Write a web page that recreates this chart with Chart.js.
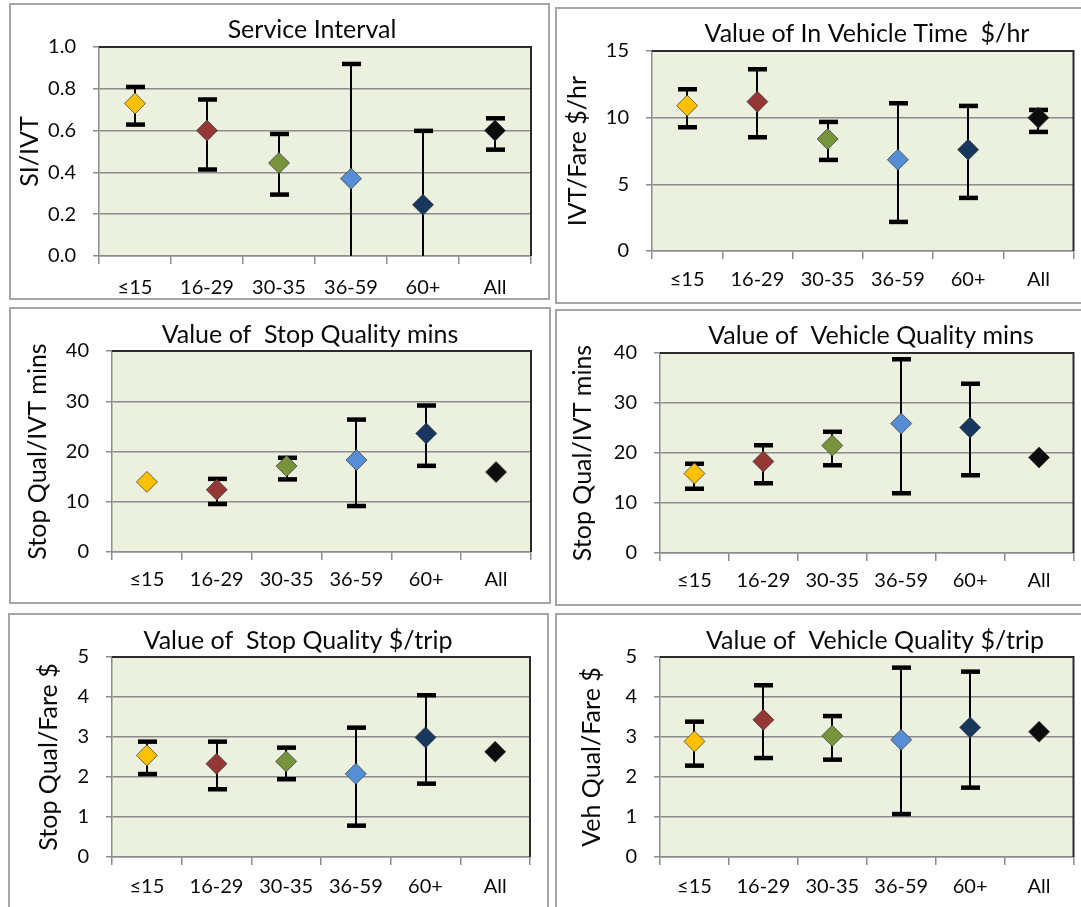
<!DOCTYPE html>
<html><head><meta charset="utf-8">
<script src="https://cdn.jsdelivr.net/npm/chart.js@4.4.1/dist/chart.umd.min.js"></script>
<style>
html,body{margin:0;padding:0;background:#fff;width:1081px;height:907px;overflow:hidden;}
body{position:relative;}
.panel{position:absolute;}
.panel canvas{position:absolute;left:0;top:0;}
.frame{position:absolute;left:0;top:0;right:0;bottom:0;box-sizing:border-box;border:2px solid #a6a6a6;pointer-events:none;}
</style></head><body>
<script>
// ---- data ----
const categories = ['≤15', '16-29', '30-35', '36-59', '60+', 'All'];

const siMean = [0.73, 0.60, 0.445, 0.37, 0.245, 0.60];
const siHigh = [0.81, 0.75, 0.585, 0.92, 0.60, 0.66];
const siLow  = [0.63, 0.415, 0.295, -0.18, -0.11, 0.51];
const siTicks = ['0.0', '0.2', '0.4', '0.6', '0.8', '1.0'];

const ivtMean = [10.9, 11.2, 8.4, 6.85, 7.6, 10.0];
const ivtHigh = [12.15, 13.65, 9.7, 11.1, 10.9, 10.6];
const ivtLow  = [9.3, 8.55, 6.85, 2.2, 4.0, 8.95];
const ivtTicks = ['0', '5', '10', '15'];

const stopMinsMean = [13.95, 12.4, 17.1, 18.3, 23.6, 15.9];
const stopMinsHigh = [null, 14.6, 18.8, 26.4, 29.2, null];
const stopMinsLow  = [null, 9.6, 14.5, 9.2, 17.2, null];

const vehMinsMean = [15.9, 18.3, 21.5, 25.9, 25.1, 19.1];
const vehMinsHigh = [17.9, 21.6, 24.3, 38.8, 33.9, null];
const vehMinsLow  = [12.9, 14.0, 17.6, 12.0, 15.6, null];
const minsTicks = ['0', '10', '20', '30', '40'];

const stopTripMean = [2.54, 2.33, 2.39, 2.08, 2.99, 2.63];
const stopTripHigh = [2.89, 2.89, 2.74, 3.24, 4.05, null];
const stopTripLow  = [2.08, 1.70, 1.95, 0.79, 1.84, null];

const vehTripMean = [2.89, 3.43, 3.03, 2.93, 3.24, 3.13];
const vehTripHigh = [3.39, 4.30, 3.53, 4.74, 4.64, null];
const vehTripLow  = [2.29, 2.48, 2.44, 1.08, 1.74, null];
const tripTicks = ['0', '1', '2', '3', '4', '5'];

// ---- styles ----
const markerColors = ['#FFC000', '#953735', '#77933C', '#558ED5', '#17375E', '#0D0D0D'];
const TEXT = '#0a0a0a';
const GRID = '#8c8c8c';

Chart.defaults.font.family = "Lato, 'Liberation Sans', sans-serif";

// ---- layout (page coords) ----
const panels = [
  {title:'Service Interval', yTitle:'SI/IVT', mean:siMean, high:siHigh, low:siLow, ticks:siTicks,
   box:[9,3,541,297], plot:[99,531,47,256], titleAt:[312,30], yTitleX:30, xOff:31.5},
  {title:'Value of In Vehicle Time  $/hr', yTitle:'IVT/Fare $/hr', mean:ivtMean, high:ivtHigh, low:ivtLow, ticks:ivtTicks,
   box:[555,7,530,297], plot:[652,1077,51,251], titleAt:[867,34], yTitleX:578, xOff:28.5},
  {title:'Value of  Stop Quality mins', yTitle:'Stop Qual/IVT mins', mean:stopMinsMean, high:stopMinsHigh, low:stopMinsLow, ticks:minsTicks,
   box:[9,307,542,297], plot:[112,531,351,552], titleAt:[310,334.5], yTitleX:38, xOff:28},
  {title:'Value of  Vehicle Quality mins', yTitle:'Stop Qual/IVT mins', mean:vehMinsMean, high:vehMinsHigh, low:vehMinsLow, ticks:minsTicks,
   box:[555,309,530,297], plot:[660,1077,353,553], titleAt:[871,336], yTitleX:582.5, xOff:28},
  {title:'Value of  Stop Quality $/trip', yTitle:'Stop Qual/Fare $', mean:stopTripMean, high:stopTripHigh, low:stopTripLow, ticks:tripTicks,
   box:[8,613,541,300], plot:[112,530,657,857], titleAt:[298,640.5], yTitleX:49, xOff:29.7},
  {title:'Value of  Vehicle Quality $/trip', yTitle:'Veh Qual/Fare $', mean:vehTripMean, high:vehTripHigh, low:vehTripLow, ticks:tripTicks,
   box:[555,613,530,300], plot:[660,1077,657,857], titleAt:[875,640.5], yTitleX:591.5, xOff:29.7}
];

// ---- plugins ----
const plotBg = {
  id:'plotBg',
  beforeDraw(chart){
    const {ctx, chartArea:a} = chart;
    ctx.save(); ctx.fillStyle = '#EBF1DE';
    ctx.fillRect(a.left, a.top, a.right - a.left, a.bottom - a.top);
    ctx.restore();
  },
  afterDraw(chart){
    const {ctx, chartArea:a} = chart;
    ctx.save(); ctx.strokeStyle = '#2b2b2b'; ctx.lineWidth = 2;
    ctx.beginPath(); ctx.moveTo(a.left, a.top); ctx.lineTo(a.right, a.top); ctx.lineTo(a.right, a.bottom); ctx.stroke();
    ctx.restore();
  }
};

const errorBars = {
  id:'errorBars',
  beforeDatasetsDraw(chart, args, opts){
    const {ctx, chartArea:a, scales:{x, y}} = chart;
    ctx.save();
    ctx.beginPath(); ctx.rect(a.left, a.top, a.right - a.left, a.bottom - a.top); ctx.clip();
    ctx.strokeStyle = '#000'; ctx.fillStyle = '#000'; ctx.lineWidth = 2;
    opts.low.forEach((lo, i) => {
      const hi = opts.high[i];
      if (lo == null || hi == null) return;
      const px = Math.round(x.getPixelForValue(i));
      const yl = y.getPixelForValue(lo), yh = y.getPixelForValue(hi);
      ctx.beginPath(); ctx.moveTo(px, yl); ctx.lineTo(px, yh); ctx.stroke();
      ctx.fillRect(px - 9, yh - 2, 19, 4.5);
      ctx.fillRect(px - 9, yl - 2, 19, 4.5);
    });
    ctx.restore();
  }
};

const titlePos = {
  id:'titlePos',
  afterLayout(chart, args, opts){
    const t = chart.titleBlock; if (!t) return;
    const w = 460;
    t.left = opts.x - w / 2; t.right = opts.x + w / 2; t.width = w;
    t.top = opts.y - 15; t.bottom = t.top + 30; t.height = 30;
  }
};

// ---- build ----
panels.forEach(p => {
  const [bx, by, bw, bh] = p.box;
  const [pl, pr, pt, pb] = p.plot;
  const div = document.createElement('div');
  div.className = 'panel';
  div.style.left = bx + 'px'; div.style.top = by + 'px';
  div.style.width = bw + 'px'; div.style.height = bh + 'px';
  const cv = document.createElement('canvas');
  cv.width = bw; cv.height = bh;
  cv.style.width = bw + 'px'; cv.style.height = bh + 'px';
  div.appendChild(cv);
  const fr = document.createElement('div'); fr.className = 'frame';
  div.appendChild(fr);
  document.body.appendChild(div);

  const tickVals = p.ticks.map(Number);
  const yAxisW = pl - bx;
  const xAxisH = bh - (pb - by);

  new Chart(cv, {
    type:'line',
    data:{
      labels: categories,
      datasets:[{
        data: p.mean,
        showLine:false,
        pointStyle:'rectRot',
        pointRadius:10.5, pointHoverRadius:10.5,
        pointBackgroundColor: markerColors,
        pointBorderColor:'rgba(60,60,60,0.75)',
        pointBorderWidth:1
      }]
    },
    options:{
      responsive:false, animation:false, events:[],
      layout:{padding:{left:0, right: bw - (pr - bx), top: (pt - by) - 30, bottom:0}},
      plugins:{
        legend:{display:false}, tooltip:{enabled:false},
        title:{display:true, text:p.title, color:TEXT, font:{size:25, weight:'normal'}, padding:0, fullSize:false},
        titlePos:{x: p.titleAt[0] - bx, y: p.titleAt[1] - by},
        errorBars:{low:p.low, high:p.high}
      },
      scales:{
        x:{
          type:'category', offset:true,
          grid:{display:true, offset:true, drawOnChartArea:false, drawTicks:true, tickLength:8, color:GRID, lineWidth:1.5},
          border:{display:true, color:GRID, width:1.5},
          ticks:{color:TEXT, font:{size:20}, padding: p.xOff - 8 - 12, maxRotation:0, autoSkip:false},
          afterFit: s => { s.height = xAxisH; }
        },
        y:{
          type:'linear', min: tickVals[0], max: tickVals[tickVals.length - 1],
          afterBuildTicks: s => { s.ticks = tickVals.map(v => ({value:v})); },
          ticks:{color:TEXT, font:{size:20}, padding:17, callback:(v, i) => p.ticks[i]},
          grid:{color:GRID, lineWidth:1.5, tickLength:6},
          border:{display:true, color:GRID, width:1.5},
          title:{display:true, text:p.yTitle, color:TEXT, font:{size:25}, padding:{top: p.yTitleX - bx - 15, bottom:0}},
          afterFit: s => { s.width = yAxisW; }
        }
      }
    },
    plugins:[plotBg, errorBars, titlePos]
  });
});
</script>
</body></html>
